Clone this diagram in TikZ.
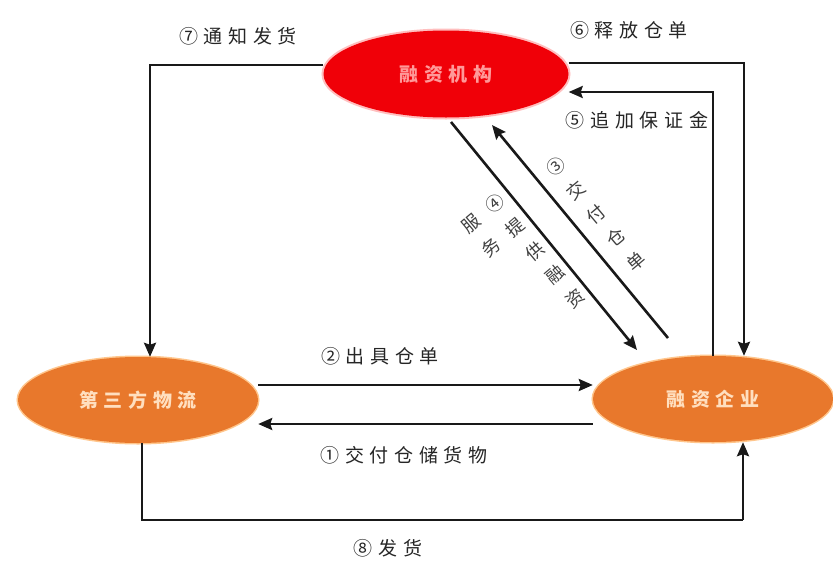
\documentclass[tikz,border=0pt]{standalone}
\usepackage{fontspec}
\usetikzlibrary{arrows.meta,shapes.geometric}
\newfontfamily\cjkfont[LetterSpace=30]{Noto Sans CJK SC}
\newfontfamily\cjkplain{Noto Sans CJK SC}
\definecolor{finred}{HTML}{F00008}
\definecolor{entorange}{HTML}{E8782C}
\begin{document}
\begin{tikzpicture}[x=1pt,y=-1pt,
  flow/.style={line width=2.6pt, draw=black!90, -{Stealth[length=14pt,width=12pt,inset=2pt]}},
  link/.style={line width=2.6pt, draw=black!90},
  lbl/.style={font=\cjkfont\fontsize{19}{22}\selectfont, text=black!85, inner sep=0pt},
  vlbl/.style={font=\cjkplain\fontsize{18}{31}\selectfont, text=black!75, inner sep=0pt, align=center, rotate=40},
  oval/.style={ellipse, inner sep=0pt, font=\cjkfont\bfseries\fontsize{19}{22}\selectfont},
  redoval/.style={oval, fill=finred, text=red!40!white, preaction={draw=red!25, line width=4pt},
    minimum width=245pt, minimum height=87pt},
  orangeoval/.style={oval, fill=entorange, text=orange!25!white, preaction={draw=orange!45, line width=3pt},
    minimum width=240pt, minimum height=86pt}
]
\useasboundingbox (0,0) rectangle (833,560);
\fill[white] (0,0) rectangle (833,560);

% the three parties
\node[redoval] (fin) at (446,74) {融资机构};
\node[orangeoval] (tpl) at (138,400) {第三方物流};
\node[orangeoval] (ent) at (713,399) {融资企业};

% corner points of the routed connectors
\coordinate (c7) at (150,65);
\coordinate (c6) at (744,63);
\coordinate (c5) at (713,92);
\coordinate (c8) at (142,520);
\coordinate (c8r) at (743,520);

% (7) notify shipment
\draw[flow] (fin.west |- c7) -- (c7) -- (c7 |- tpl.north);
% (6) release warehouse receipt
\draw[flow] (fin.east |- c6) -- (c6) -- (c6 |- ent.north);
% (5) additional margin
\draw[flow] (c5 |- ent.north) -- (c5) -- (fin.east |- c5);
% (2) issue receipt, (1) deliver goods
\draw[flow] (tpl.east |- 0,385) -- (ent.west |- 0,385);
\draw[flow] (ent.west |- 0,424) -- (tpl.east |- 0,424);
% (8) shipment
\draw[link] (c8 |- tpl.south) -- (c8) -- (c8r);
\draw[flow] (c8r) -- (c8r |- ent.south);

% (4) financing and (3) receipt handover
\coordinate (a4s) at (451,122);
\coordinate (a4e) at (637,350);
\coordinate (a3s) at (668,338);
\coordinate (a3e) at (492,125);
\draw[flow] (a4s) -- (a4e);
\draw[flow] (a3s) -- (a3e);

% labels
\node[lbl] (l7) at (238,36) {⑦通知发货};
\node[lbl] (l6) at (629,30) {⑥释放仓单};
\node[lbl] (l5) at (637,120) {⑤追加保证金};
\node[lbl] (l2) at (380,356) {②出具仓单};
\node[lbl] (l1) at (404,455) {①交付仓储货物};
\node[lbl] (l8) at (388,548) {⑧发货};

\node[vlbl] (l3) at (596,214) {③\\交\\付\\仓\\单};
\node[vlbl] (l4) at (535,251) {④\\提\\供\\融\\资};
\node[vlbl] (l4b) at (481,236) {服\\务};
\end{tikzpicture}
\end{document}
